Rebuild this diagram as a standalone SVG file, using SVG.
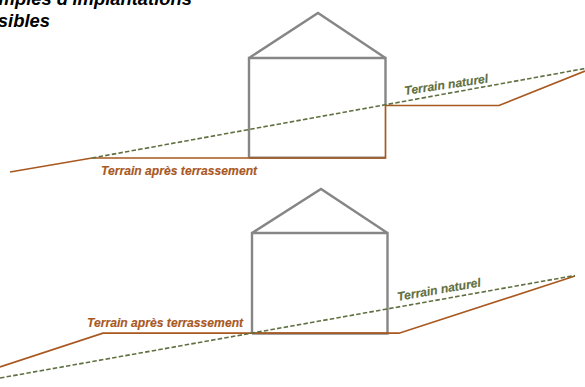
<svg xmlns="http://www.w3.org/2000/svg" width="585" height="387" viewBox="0 0 585 387">
<style>
.house{fill:none;stroke:#868686;stroke-width:2.4;stroke-linejoin:miter}
.ground{fill:none;stroke:#a9581f;stroke-width:1.7;stroke-linejoin:miter}
.natural{fill:none;stroke:#5f7040;stroke-width:1.6;stroke-dasharray:4.500 2.200}
text{font-family:"Liberation Sans",Arial,sans-serif;font-weight:bold;font-style:italic}
.title{font-size:18.400px;fill:#000;text-anchor:end}
.lg{font-size:12.150px;fill:#a9581f;stroke:#a9581f;stroke-width:.15}
.ln{font-size:12.150px;fill:#5f7040;stroke:#5f7040;stroke-width:.15}
</style>
<rect width="585" height="387" fill="#fff"/>
<g id="title">
<text class="title" x="192" y="5">mples d'implantations</text>
<text class="title" x="50" y="26.500">sibles</text>
</g>
<g id="house-top"><path class="house" d="M249 158V58H385.500V105M249 58L318 13L385.500 58M249 157.800H385.500"/></g>
<g id="house-bottom"><path class="house" d="M252 333.500V233H387.500V333.500H252M252 233L321 189L387.500 233"/></g>
<g id="connectors">
<path class="ground" d="M10 172L92 158H385.500V105.500H499L585 71"/>
<path class="natural" d="M92 158L585 68.500"/>
<path class="ground" d="M0 367L103 333.200H399L575 276"/>
<path class="natural" d="M0 378L575 275.500"/>
</g>
<g id="label-top-ground"><text class="lg" x="101" y="175">Terrain après terrassement</text></g>
<g id="label-top-natural"><text class="ln" transform="translate(405 95) rotate(-8.500)">Terrain naturel</text></g>
<g id="label-bottom-ground"><text class="lg" x="87" y="327">Terrain après terrassement</text></g>
<g id="label-bottom-natural"><text class="ln" transform="translate(398 301) rotate(-10)">Terrain naturel</text></g>
</svg>
